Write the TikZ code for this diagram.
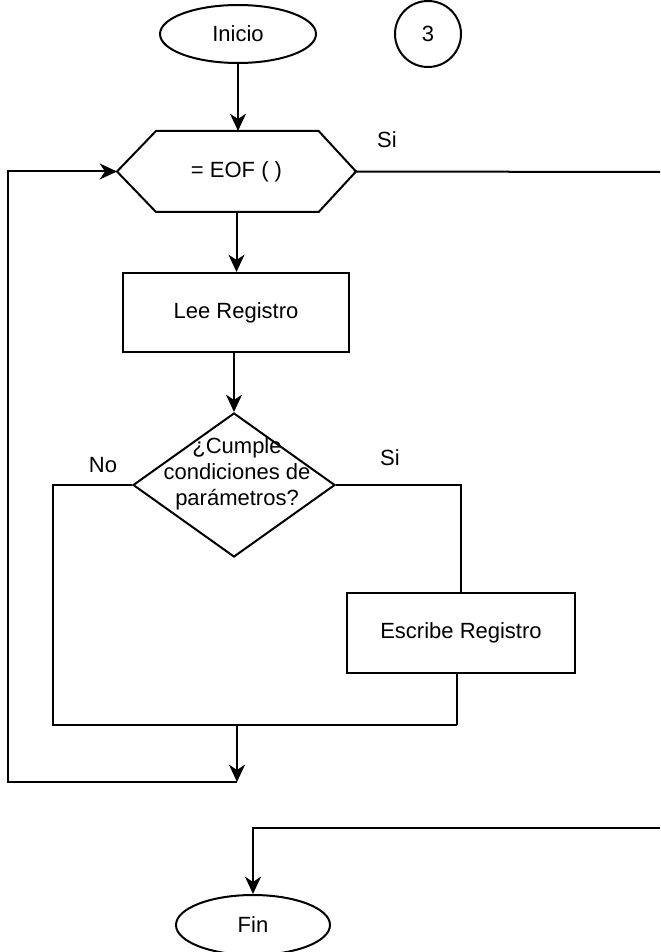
\documentclass[tikz,border=0pt]{standalone}
\usepackage{fontspec}
\setmainfont{Liberation Sans}
\usetikzlibrary{shapes.geometric,arrows.meta}
\begin{document}
\begin{tikzpicture}[x=0.75pt,y=-0.75pt,
  line width=1.5pt,
  font=\fontsize{16.5}{19.5}\selectfont,
  flow/.style={-{Stealth[length=13pt,width=12pt,inset=4pt]}},
  terminal/.style={draw,ellipse,inner sep=0pt},
  process/.style={draw,rectangle,inner sep=0pt},
  tag/.style={inner sep=0pt}]
\useasboundingbox (0,0) rectangle (660,952);

% start, connector number and end
\node[terminal,minimum width=117pt,minimum height=43.5pt] (inicio) at (238,34) {Inicio};
\node[draw,circle,inner sep=0pt,minimum size=49.5pt] (three) at (428,34) {3};
\node[terminal,minimum width=115.5pt,minimum height=45pt] (fin) at (253,925) {Fin};

% loop test (hexagon drawn around the node's box)
\node[inner sep=0pt,minimum width=177.75pt,minimum height=59.25pt] (hex) at (236.5,171.5) {= EOF ( )};
\draw (hex.west) -- ([xshift=29.25pt]hex.north west) -- ([xshift=-28pt]hex.north east)
  -- (hex.east) -- ([xshift=-28pt]hex.south east) -- ([xshift=29.25pt]hex.south west) -- cycle;

% loop body
\node[process,minimum width=169.5pt,minimum height=59.25pt] (lee) at (236,312.5) {Lee Registro};
\node[draw,diamond,inner sep=0pt,minimum width=151.5pt,minimum height=108pt] (cond) at (234,485) {};
\node[align=center,inner sep=0pt] (condtxt) at (237,474) {¿Cumple\\condiciones de\\parámetros?};
\node[process,minimum width=171pt,minimum height=60pt] (escribe) at (461,633) {Escribe Registro};

% branch labels
\node[tag] (siA) at (387,140) {Si};
\node[tag] (no) at (103,465) {No};
\node[tag] (siB) at (390,458) {Si};

% routing points
\coordinate (eofout) at (660,172);
\coordinate (nobottom) at (53,725);
\coordinate (merge) at (457,725);
\coordinate (join) at (237,725);
\coordinate (loopdown) at (237,782);
\coordinate (loopcorner) at (8,782);
\coordinate (finfeed) at (660,828);

% connectors
\draw[flow] (inicio.south) -- (inicio.south |- hex.north);
\draw (hex.east) -- (eofout);
\draw[flow] (hex.south) -- (hex.south |- lee.north);
\draw[flow] (cond.north |- lee.south) -- (cond.north);
\draw (cond.west) -| (nobottom) -- (merge);
\draw (cond.east) -| (escribe.north);
\draw (escribe.south -| merge) -- (merge);
\draw[flow] (join) -- (loopdown);
\draw[flow] (loopdown) -- (loopcorner) |- (hex.west);
\draw[flow] (finfeed) -| (fin.north);
\end{tikzpicture}
\end{document}
